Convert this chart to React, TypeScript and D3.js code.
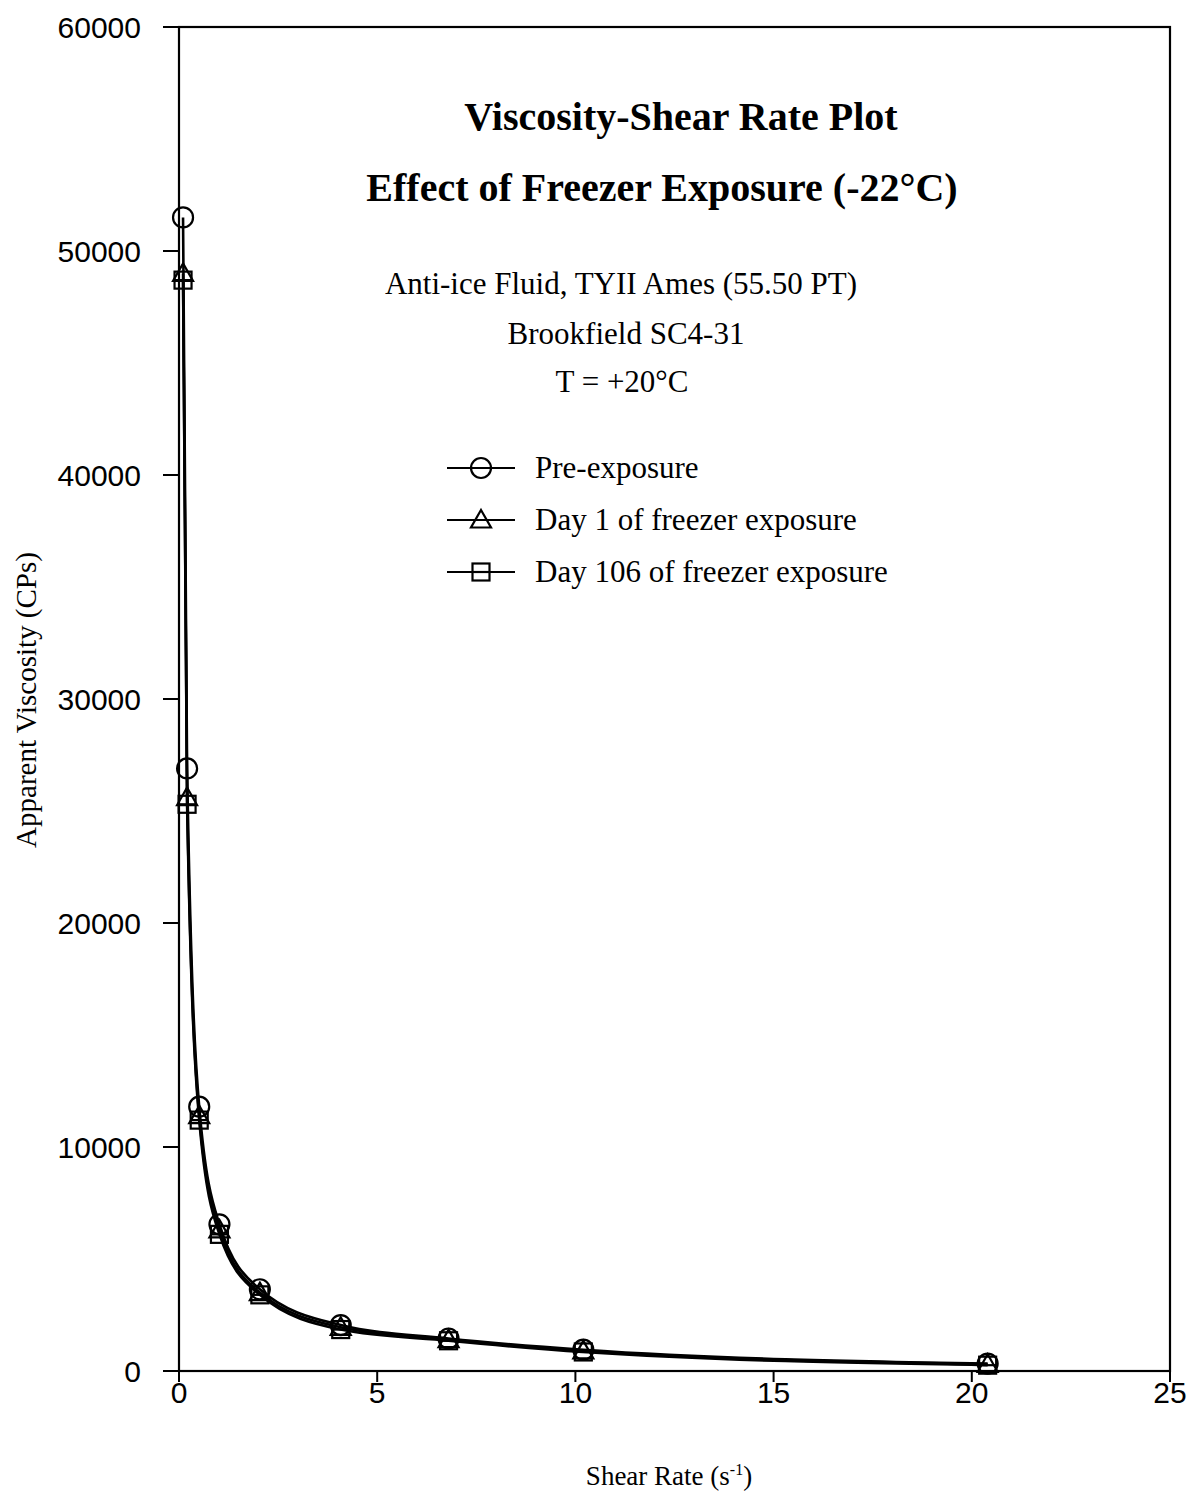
import React from "react";
import * as d3 from "d3";

const shearRates = [0.102, 0.204, 0.51, 1.02, 2.04, 4.08, 6.8, 10.2, 20.4];
const preExposure = [51500, 26900, 11800, 6550, 3650, 2050, 1450, 950, 330];
const day1 = [49000, 25600, 11400, 6300, 3500, 1950, 1400, 900, 300];
const day106 = [48700, 25300, 11200, 6100, 3400, 1850, 1350, 850, 260];
const seriesNames = ["Pre-exposure", "Day 1 of freezer exposure", "Day 106 of freezer exposure"];
const seriesMarkers = ["circle", "triangle", "square"];
const xTicks = [0, 5, 10, 15, 20, 25];
const yTicks = [0, 10000, 20000, 30000, 40000, 50000, 60000];
const titleLines = ["Viscosity-Shear Rate Plot", "Effect of Freezer Exposure (-22°C)"];
const subtitleLines = ["Anti-ice Fluid, TYII Ames (55.50 PT)", "Brookfield SC4-31", "T = +20°C"];

const W = 1198;
const H = 1500;
const L = 179, R = 1170, T = 27, B = 1371;
const SERIF = "'Liberation Serif', 'Times New Roman', serif";
const SANS = "'Liberation Sans', Arial, sans-serif";

function Marker({ kind, x, y }: { kind: string; x: number; y: number }) {
  const sw = 2.2;
  if (kind === "circle") {
    return <circle cx={x} cy={y} r={10} fill="none" stroke="#000" strokeWidth={sw} />;
  }
  if (kind === "triangle") {
    const s = 10;
    const p = `${x},${y - s} ${x + s},${y + s * 0.75} ${x - s},${y + s * 0.75}`;
    return <polygon points={p} fill="none" stroke="#000" strokeWidth={sw} />;
  }
  const s = 8.5;
  return (
    <g>
      <rect x={x - s} y={y - s} width={2 * s} height={2 * s} fill="none" stroke="#000" strokeWidth={sw} />
      <line x1={x - s} x2={x + s} y1={y} y2={y} stroke="#000" strokeWidth={sw} />
    </g>
  );
}

export default function App() {
  const x = d3.scaleLinear().domain([0, 25]).range([L, R]);
  const y = d3.scaleLinear().domain([0, 60000]).range([B, T]);
  const allSeries = [preExposure, day1, day106];
  const line = d3
    .line<[number, number]>()
    .x((d) => x(d[0]))
    .y((d) => y(d[1]))
    .curve(d3.curveMonotoneX);

  return (
    <svg width={W} height={H} style={{ display: "block", position: "absolute", left: 0, top: 0, background: "#fff" }}>
      <rect x={0} y={0} width={W} height={H} fill="#fff" />
      {/* frame */}
      <rect x={L} y={T} width={R - L} height={B - T} fill="none" stroke="#000" strokeWidth={2.2} />
      {/* y ticks */}
      {yTicks.map((t) => (
        <g key={"y" + t}>
          <line x1={L - 16} x2={L} y1={y(t)} y2={y(t)} stroke="#000" strokeWidth={2} />
          <text x={L - 38} y={y(t)} dy="0.36em" textAnchor="end" fontFamily={SANS} fontSize={30} fill="#000">
            {t}
          </text>
        </g>
      ))}
      {/* x ticks */}
      {xTicks.map((t) => (
        <g key={"x" + t}>
          <line x1={x(t)} x2={x(t)} y1={B} y2={B + 11} stroke="#000" strokeWidth={2} />
          <text x={x(t)} y={B + 32} textAnchor="middle" fontFamily={SANS} fontSize={30} fill="#000">
            {t}
          </text>
        </g>
      ))}
      {/* data lines */}
      {allSeries.map((s, i) => (
        <path
          key={"l" + i}
          d={line(shearRates.map((r, j) => [r, s[j]] as [number, number])) || ""}
          fill="none"
          stroke="#000"
          strokeWidth={2.6}
        />
      ))}
      {/* markers */}
      {allSeries.map((s, i) =>
        shearRates.map((r, j) => <Marker key={`m${i}-${j}`} kind={seriesMarkers[i]} x={x(r)} y={y(s[j])} />)
      )}
      {/* titles */}
      {titleLines.map((t, i) => (
        <text
          key={"t" + i}
          x={i === 0 ? 681 : 662}
          y={130 + i * 71}
          textAnchor="middle"
          fontFamily={SERIF}
          fontWeight="bold"
          fontSize={40}
          fill="#000"
        >
          {t}
        </text>
      ))}
      {subtitleLines.map((t, i) => (
        <text
          key={"s" + i}
          x={[621, 626, 622][i]}
          y={[294, 344, 392][i]}
          textAnchor="middle"
          fontFamily={SERIF}
          fontSize={31}
          fill="#000"
        >
          {t}
        </text>
      ))}
      {/* legend */}
      {seriesNames.map((n, i) => {
        const ly = 468 + i * 52;
        return (
          <g key={"lg" + i}>
            <line x1={447} x2={515} y1={ly} y2={ly} stroke="#000" strokeWidth={2.2} />
            <Marker kind={seriesMarkers[i]} x={481} y={ly} />
            <text x={535} y={ly + 10} fontFamily={SERIF} fontSize={31} fill="#000">
              {n}
            </text>
          </g>
        );
      })}
      {/* axis labels */}
      <text
        transform={`translate(36, 700) rotate(-90)`}
        textAnchor="middle"
        fontFamily={SERIF}
        fontSize={29}
        fill="#000"
      >
        Apparent Viscosity (CPs)
      </text>
      <text x={669} y={1485} textAnchor="middle" fontFamily={SERIF} fontSize={27} fill="#000">
        Shear Rate (s
        <tspan dy={-10} fontSize={16}>-1</tspan>
        <tspan dy={10}>)</tspan>
      </text>
    </svg>
  );
}
